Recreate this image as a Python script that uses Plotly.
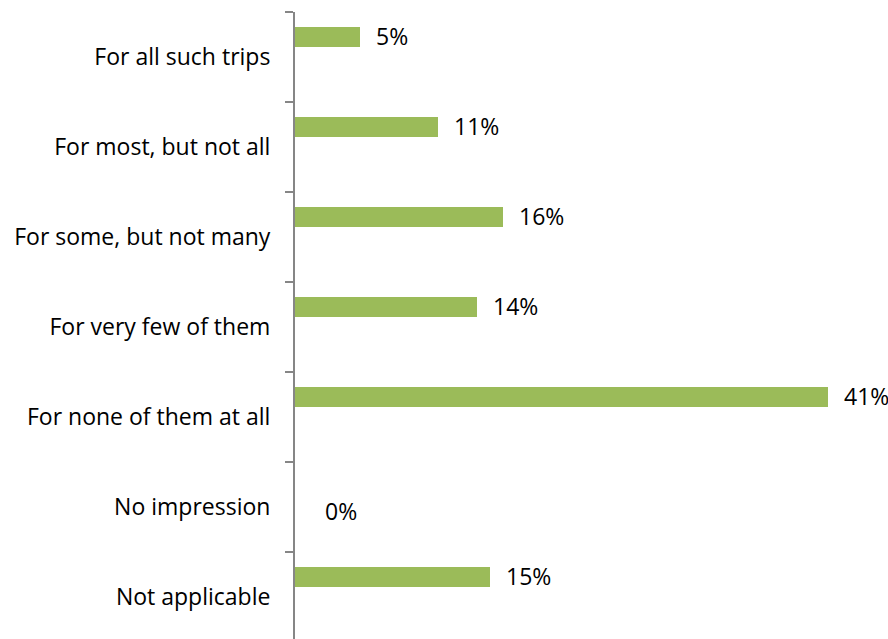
import plotly.graph_objects as go

# Survey responses (share of respondents, %)
categories = [
    "For all such trips",
    "For most, but not all",
    "For some, but not many",
    "For very few of them",
    "For none of them at all",
    "No impression",
    "Not applicable",
]
values = [5, 11, 16, 14, 41, 0, 15]
labels = ["5%", "11%", "16%", "14%", "41%", "0%", "15%"]

BAR_COLOR = "#9BBB59"
AXIS_COLOR = "#868686"
FONT = "'Open Sans', Lato, sans-serif"
FONT_SIZE = 23

W, H = 888, 639
LEFT, TOP = 295, 12
BAND_PX = 90.0
X_MAX = 45.6

fig = go.Figure()

# thin bars sitting in the upper part of each category band
fig.add_trace(go.Bar(
    x=values,
    y=categories,
    orientation="h",
    marker=dict(color=BAR_COLOR, line=dict(width=0)),
    width=20 / BAND_PX,
    offset=-30 / BAND_PX,
    hoverinfo="skip",
    showlegend=False,
))

# value labels just past the end of each bar
annotations = []
for cat, v, lab in zip(categories, values, labels):
    if v == 0:
        annotations.append(dict(
            x=v, y=cat, xref="x", yref="y", text=lab, showarrow=False,
            xanchor="left", yanchor="middle", xshift=28, yshift=-4,
            font=dict(family=FONT, size=FONT_SIZE, color="#000000"),
        ))
    else:
        annotations.append(dict(
            x=v, y=cat, xref="x", yref="y", text=lab, showarrow=False,
            xanchor="left", yanchor="middle", xshift=14, yshift=21,
            font=dict(family=FONT, size=FONT_SIZE, color="#000000"),
        ))

span = (H - TOP) / BAND_PX

fig.update_layout(
    width=W,
    height=H,
    margin=dict(l=LEFT, r=0, t=TOP, b=0),
    paper_bgcolor="white",
    plot_bgcolor="white",
    font=dict(family=FONT, size=FONT_SIZE, color="#000000"),
    annotations=annotations,
    bargap=0,
    xaxis=dict(
        range=[0, X_MAX],
        visible=False,
        fixedrange=True,
    ),
    yaxis=dict(
        type="category",
        categoryorder="array",
        categoryarray=categories,
        range=[-0.5 + span, -0.5],
        showline=True,
        linecolor=AXIS_COLOR,
        linewidth=2,
        ticks="outside",
        tickson="boundaries",
        ticklen=8,
        tickwidth=2,
        tickcolor=AXIS_COLOR,
        ticklabelstandoff=18,
        showgrid=False,
        zeroline=False,
        tickfont=dict(family=FONT, size=FONT_SIZE, color="#000000"),
        fixedrange=True,
    ),
)

fig.write_html("out.html")
